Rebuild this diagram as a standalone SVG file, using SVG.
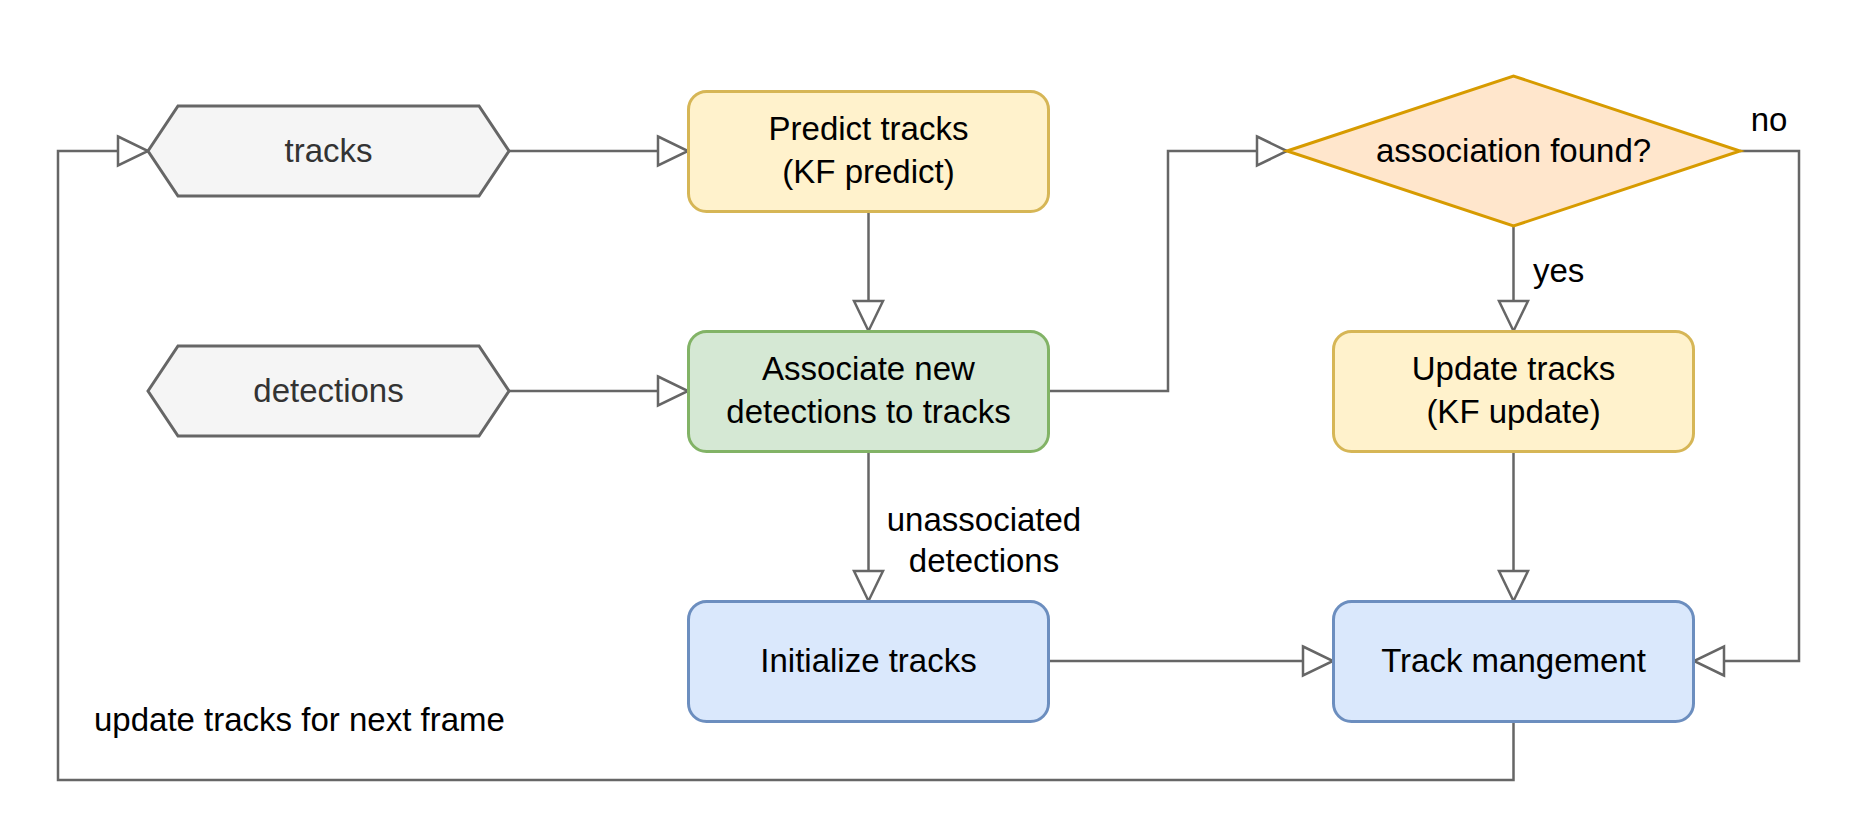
<svg xmlns="http://www.w3.org/2000/svg" width="1860" height="840" viewBox="0 0 1860 840">
  <defs>
    <marker id="arrow" viewBox="0 0 32 31" markerUnits="userSpaceOnUse" markerWidth="32" markerHeight="31" refX="31" refY="15.5" orient="auto" overflow="visible">
      <path d="M1,1 L31,15.5 L1,30 Z" fill="#ffffff" stroke="#666666" stroke-width="2.5" stroke-linejoin="miter"/>
    </marker>
    <style>
      text { font-family: "Liberation Sans", Arial, sans-serif; font-size: 33px; fill: #000000; }
      .hex { fill: #f5f5f5; stroke: #666666; stroke-width: 3; }
      .hex-text { fill: #333333; text-anchor: middle; }
      .yellow { fill: #fff2cc; stroke: #d6b656; stroke-width: 3; }
      .green { fill: #d5e8d4; stroke: #82b366; stroke-width: 3; }
      .blue { fill: #dae8fc; stroke: #6c8ebf; stroke-width: 3; }
      .orange { fill: #ffe6cc; stroke: #d79b00; stroke-width: 3; }
      .mid { text-anchor: middle; }
      .edge { fill: none; stroke: #666666; stroke-width: 2.5; marker-end: url(#arrow); }
    </style>
  </defs>
  <rect width="1860" height="840" fill="#ffffff"/>

  <g id="connectors">
    <path class="edge" d="M509,151 H688"/>
    <path class="edge" d="M868.5,212 V331"/>
    <path class="edge" d="M509,391 H688"/>
    <path class="edge" d="M1049,391 H1168 V151 H1287"/>
    <path class="edge" d="M1513.5,226 V331"/>
    <path class="edge" d="M1740,151 H1799 V661 H1694"/>
    <path class="edge" d="M1513.5,452 V601"/>
    <path class="edge" d="M868.5,452 V601"/>
    <path class="edge" d="M1049,661 H1333"/>
    <path class="edge" d="M1513.5,722 V780 H58 V151 H148"/>
    <text x="1769" y="131" class="mid">no</text>
    <text x="1533" y="282">yes</text>
    <text x="984" y="531" class="mid">unassociated</text>
    <text x="984" y="572" class="mid">detections</text>
    <text x="94" y="731">update tracks for next frame</text>
  </g>

  <g id="tracks">
    <polygon class="hex" points="148,151 178,106 479,106 509,151 479,196 178,196"/>
    <text x="328.5" y="162" class="hex-text">tracks</text>
  </g>

  <g id="detections">
    <polygon class="hex" points="148,391 178,346 479,346 509,391 479,436 178,436"/>
    <text x="328.5" y="402" class="hex-text">detections</text>
  </g>

  <g id="predict">
    <rect class="yellow" x="688.5" y="91.5" width="360" height="120" rx="18" ry="18"/>
    <text x="868.5" y="140" class="mid">Predict tracks</text>
    <text x="868.5" y="183" class="mid">(KF predict)</text>
  </g>

  <g id="associate">
    <rect class="green" x="688.5" y="331.5" width="360" height="120" rx="18" ry="18"/>
    <text x="868.5" y="380" class="mid">Associate new</text>
    <text x="868.5" y="423" class="mid">detections to tracks</text>
  </g>

  <g id="initialize">
    <rect class="blue" x="688.5" y="601.5" width="360" height="120" rx="18" ry="18"/>
    <text x="868.5" y="672" class="mid">Initialize tracks</text>
  </g>

  <g id="decision">
    <polygon class="orange" points="1287,151 1513.5,76 1740,151 1513.5,226"/>
    <text x="1513.5" y="162" class="mid">association found?</text>
  </g>

  <g id="update">
    <rect class="yellow" x="1333.5" y="331.5" width="360" height="120" rx="18" ry="18"/>
    <text x="1513.5" y="380" class="mid">Update tracks</text>
    <text x="1513.5" y="423" class="mid">(KF update)</text>
  </g>

  <g id="management">
    <rect class="blue" x="1333.5" y="601.5" width="360" height="120" rx="18" ry="18"/>
    <text x="1513.5" y="672" class="mid">Track mangement</text>
  </g>
</svg>
